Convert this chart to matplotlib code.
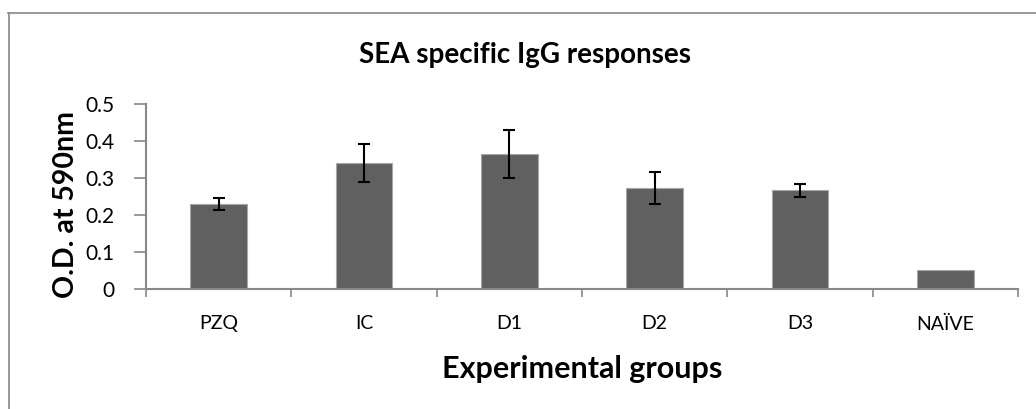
import matplotlib.pyplot as plt
from matplotlib.lines import Line2D
import numpy as np

groups = ["PZQ", "IC", "D1", "D2", "D3", "NAÏVE"]
od_values = [0.230, 0.340, 0.365, 0.272, 0.267, 0.052]
od_errors = [0.016, 0.051, 0.064, 0.043, 0.017, 0.0]

plt.rcParams['font.family'] = ['Lato', 'DejaVu Sans']

W, H = 1036, 409
fig = plt.figure(figsize=(W / 100, H / 100), dpi=100)

# grey chart-area border (only top and left visible in the crop)
border = "#888888"
fig.add_artist(Line2D([8.5 / W, 8.5 / W], [0, (H - 13) / H], color=border, lw=1.2,
                      transform=fig.transFigure))
fig.add_artist(Line2D([8 / W, 1], [(H - 13) / H, (H - 13) / H], color=border, lw=1.2,
                      transform=fig.transFigure))

ax = fig.add_axes([146 / W, (H - 289) / H, 872 / W, 185 / H])
x = np.arange(len(groups))
ax.bar(x, od_values, width=0.39, color="#606060", edgecolor="#a8a8a8", linewidth=0.8,
       zorder=2)
err_idx = [i for i, e in enumerate(od_errors) if e > 0]
ax.errorbar(x[err_idx], [od_values[i] for i in err_idx], yerr=[od_errors[i] for i in err_idx],
            fmt="none", ecolor="black", elinewidth=1.5, capsize=4.3, capthick=1.5, zorder=3)

ax.set_xlim(-0.5, len(groups) - 0.5)
ax.set_ylim(0, 0.5)
ax.set_yticks([0, 0.1, 0.2, 0.3, 0.4, 0.5])
ax.set_yticklabels(["0", "0.1", "0.2", "0.3", "0.4", "0.5"], fontsize=15)
ax.set_xticks(x)
ax.set_xticklabels(groups, fontsize=14)
ax.set_xticks(np.arange(-0.5, len(groups), 1.0), minor=True)
ax.tick_params(axis="x", which="major", length=0, pad=19)
ax.tick_params(axis="x", which="minor", length=6, width=1.2, color="#888888", direction="out")
ax.tick_params(axis="y", length=9, width=1.2, color="#888888", pad=14)

for s in ["top", "right"]:
    ax.spines[s].set_visible(False)
for s in ["left", "bottom"]:
    ax.spines[s].set_color("#888888")
    ax.spines[s].set_linewidth(1.5)

fig.text(525 / W, 1 - 63 / H, "SEA specific IgG responses", fontsize=20, fontweight="bold",
         ha="center", va="baseline")
fig.text(66 / W, 1 - 205 / H, "O.D. at 590nm", fontsize=20.5, fontweight="bold",
         rotation=90, ha="center", va="center")
fig.text(582 / W, 1 - 378 / H, "Experimental groups", fontsize=22, fontweight="bold",
         ha="center", va="baseline")

fig.savefig("out.png", dpi=100)
